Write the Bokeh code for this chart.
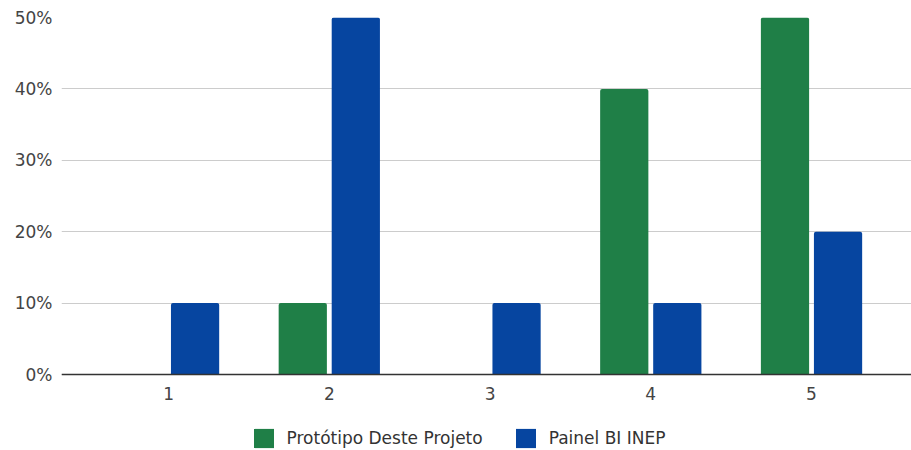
from bokeh.plotting import figure
from bokeh.models import (ColumnDataSource, Range1d, FixedTicker, NumeralTickFormatter,
                          Legend, LegendItem, Span)
from bokeh.core.properties import value
from bokeh.embed import file_html
from bokeh.resources import INLINE

# Share of responses per score (1-5) for each dashboard
scores = [1, 2, 3, 4, 5]
score_labels = ["1", "2", "3", "4", "5"]
prototipo = [0.0, 0.10, 0.0, 0.40, 0.50]
painel_inep = [0.10, 0.50, 0.10, 0.10, 0.20]
series_names = ["Protótipo Deste Projeto", "Painel BI INEP"]
y_ticks = [0.0, 0.1, 0.2, 0.3, 0.4, 0.5]

GREEN = "#1f7f47"
BLUE = "#0645a0"
FONT = "DejaVu Sans"

offset = 0.165
bar_w = 0.30

src = ColumnDataSource(data=dict(
    x_green=[s - offset for s in scores],
    x_blue=[s + offset for s in scores],
    prototipo=prototipo,
    painel=painel_inep,
))
lab_src = ColumnDataSource(data=dict(x=scores, y=[0.0] * len(scores), text=score_labels))

# the frame runs down to the bottom edge so the legend can sit under the baseline
p = figure(width=911, height=450, output_backend="svg", toolbar_location=None,
           x_range=Range1d(0.334, 5.622), y_range=Range1d(-0.10644, 0.5),
           min_border_left=61, min_border_right=0, min_border_top=17, min_border_bottom=0)
p.outline_line_color = None
p.background_fill_color = "white"
p.border_fill_color = "white"

g = p.vbar(x="x_green", top="prototipo", width=bar_w, source=src,
           fill_color=GREEN, line_color=None, border_radius=(2, 2, 0, 0))
b = p.vbar(x="x_blue", top="painel", width=bar_w, source=src,
           fill_color=BLUE, line_color=None, border_radius=(2, 2, 0, 0))

# baseline at 0%
p.add_layout(Span(location=0, dimension="width", line_color="#333333", line_width=1.5))

# category labels under the baseline
p.text(x="x", y="y", text="text", source=lab_src, y_offset=19,
       text_align="center", text_baseline="middle",
       text_font=value(FONT), text_font_size="17px", text_color="#444444")

p.xaxis.visible = False

p.yaxis.ticker = FixedTicker(ticks=y_ticks)
p.yaxis.formatter = NumeralTickFormatter(format="0%")
p.yaxis.axis_line_color = None
p.yaxis.major_tick_line_color = None
p.yaxis.minor_tick_line_color = None
p.yaxis.major_tick_out = 0
p.yaxis.major_tick_in = 0
p.yaxis.major_label_text_font = FONT
p.yaxis.major_label_text_font_size = "17px"
p.yaxis.major_label_text_color = "#444444"
p.yaxis.major_label_standoff = 9

p.xgrid.grid_line_color = None
p.ygrid.grid_line_color = "#cccccc"
p.ygrid.grid_line_width = 1

legend = Legend(items=[LegendItem(label=series_names[0], renderers=[g]),
                       LegendItem(label=series_names[1], renderers=[b])],
                orientation="horizontal", location=(189.5, 0),
                label_text_font=FONT, label_text_font_size="17px",
                label_text_color="#333333", border_line_color=None,
                background_fill_alpha=0,
                glyph_width=25, glyph_height=24, label_height=24,
                spacing=30, label_standoff=11,
                margin=0, padding=0)
p.add_layout(legend, "center")

open("out.html", "w").write(file_html(p, INLINE))
